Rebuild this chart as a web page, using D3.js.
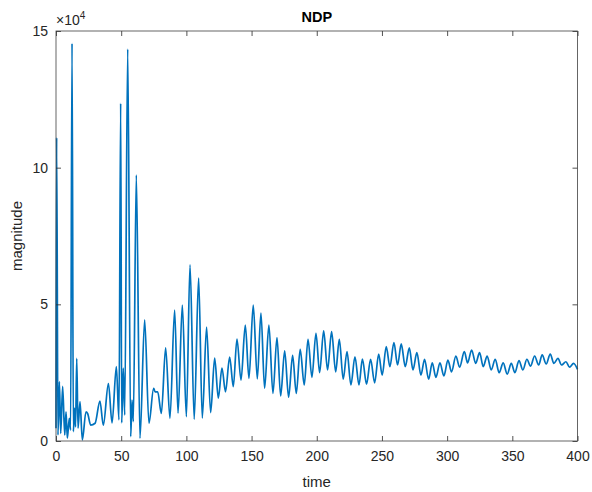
<!DOCTYPE html>
<html><head><meta charset="utf-8">
<script src="https://cdn.jsdelivr.net/npm/d3@7"></script>
<style>body{margin:0;background:#fff}svg{display:block}text{font-family:"Liberation Sans",Arial,sans-serif}</style>
</head><body>
<svg id="c" width="592" height="492"></svg>
<script>
// time samples (extrema)
const time = [0,0.5,1.5,2.6,3.6,5.1,6.7,7.7,8.7,10.2,11.2,12.3,13.3,14.3,15.0,15.9,16.9,18.4,20.2,23.0,24.3,26.6,30.0,33.7,36.3,40.2,43.0,46.3,48.3,49.6,50.4,51.6,52.7,55.0,57.3,58.3,59.3,61.6,64.4,68.0,71.3,74.9,76.0,78.0,80.8,84.1,87.4,91.0,93.6,96.9,100,102.8,106,109.4,112.2,115.5,118.6,121.7,124.5,127.3,130,133.2,136,138.8,141.9,145.2,148,151.3,154.4,157.2,160,163.3,166.4,169.5,172.3,175.4,178.4,181.5,184.3,187.3,190.4,193.3,196.3,199.4,202.2,205.3,208.3,211.4,214.5,217.3,220.3,223.2,226.2,229.3,232.4,235.0,238.2,241.3,244.4,247.5,250.2,253.3,256.1,259.2,262,264.8,267.9,271,273.8,276.8,279.9,282.7,285.8,288.6,291.4,294.5,297.5,300.6,303.4,306.7,309.6,313.2,315.7,318.8,321.9,324.9,327.7,330.7,333.8,336.9,339.9,343,346.1,349.2,352,355.1,358.1,361.2,364,367.1,370.2,372.9,376,379.1,381.9,385,387.8,391.1,393.9,397,400];
// magnitude in units of 1e4
const magnitude = [0.47,11.1,0.22,2.17,0.28,2.0,0.22,1.07,0.1,0.83,0.4,14.55,0.34,1.2,0.52,3.02,0.47,1.44,0.04,1.07,1.0,0.58,0.65,1.46,0.58,2.1,0.66,2.72,0.77,12.35,0.66,2.67,0.95,14.34,0.16,1.5,0.71,9.73,0.1,4.43,0.65,1.93,1.8,1.8,1.01,3.41,0.83,4.79,1.02,4.97,0.89,6.44,0.8,5.96,0.84,4.17,1.04,3.03,1.57,2.67,1.8,3.07,1.99,3.73,2.23,4.24,2.29,4.97,2.27,4.68,1.93,4.24,1.74,3.78,1.65,3.3,1.6,3.13,1.74,3.35,2.05,3.72,2.33,3.94,2.5,4.03,2.6,4.0,2.53,3.72,2.26,3.27,2.05,3.08,2.05,3.0,2.08,2.99,2.13,3.18,2.41,3.45,2.72,3.6,2.78,3.55,2.72,3.41,2.6,3.23,2.41,2.99,2.26,2.86,2.33,2.86,2.38,2.96,2.53,3.11,2.7,3.27,2.86,3.33,2.84,3.23,2.72,3.11,2.6,2.99,2.5,2.86,2.45,2.84,2.5,2.94,2.6,2.99,2.74,3.11,2.78,3.15,2.82,3.18,2.84,3.02,2.78,2.9,2.7,2.84,2.62];
const xTicks = [0,50,100,150,200,250,300,350,400];
const yTicks = [0,5,10,15];
const titleText = "NDP", xLabel = "time", yLabel = "magnitude";

const svg = d3.select("#c");
const L = 56, R = 577.5, T = 31, B = 441;
const x = d3.scaleLinear().domain([0,400]).range([L,R]);
const y = d3.scaleLinear().domain([0,15]).range([B,T]);
const axCol = "#262626";

const g = svg.append("g");
const data = time.map((t,i)=>[t,magnitude[i]]);
g.append("path").datum(data)
  .attr("fill","none").attr("stroke","#0072BD").attr("stroke-width",1.7)
  .attr("stroke-linejoin","round")
  .attr("d", d3.line().x(d=>x(d[0])).y(d=>y(d[1])).curve(d3.curveMonotoneX));

function styleAxis(sel){
  sel.select(".domain").remove();
  sel.selectAll("line").attr("stroke",axCol).attr("stroke-width",0.8);
  sel.selectAll("text").attr("fill",axCol).style("font-size","14px").style("font-family",'"Liberation Sans",Arial,sans-serif');
}
svg.append("g").attr("transform",`translate(0,${B})`)
  .call(d3.axisBottom(x).tickValues(xTicks).tickSize(-5).tickPadding(10).tickFormat(d3.format("d")))
  .call(styleAxis);
svg.append("g").attr("transform",`translate(0,${T})`)
  .call(d3.axisTop(x).tickValues(xTicks).tickSize(-5).tickFormat(""))
  .call(styleAxis);
svg.append("g").attr("transform",`translate(${L},0)`)
  .call(d3.axisLeft(y).tickValues(yTicks).tickSize(-5).tickPadding(8).tickFormat(d3.format("d")))
  .call(styleAxis);
svg.append("g").attr("transform",`translate(${R},0)`)
  .call(d3.axisRight(y).tickValues(yTicks).tickSize(-5).tickFormat(""))
  .call(styleAxis);

svg.append("rect").attr("x",L).attr("y",T).attr("width",R-L).attr("height",B-T)
  .attr("fill","none").attr("stroke","#404040").attr("stroke-width",0.8);

svg.append("text").attr("x",(L+R)/2).attr("y",22).attr("text-anchor","middle")
  .attr("font-weight","bold").attr("font-size",14.5).attr("fill","#000").text(titleText);
svg.append("text").attr("x",(L+R)/2).attr("y",487).attr("text-anchor","middle")
  .attr("font-size",15).attr("fill",axCol).text(xLabel);
svg.append("text").attr("transform",`translate(22,${(T+B)/2}) rotate(-90)`).attr("text-anchor","middle")
  .attr("font-size",15).attr("fill",axCol).text(yLabel);
const ex = svg.append("text").attr("x",L).attr("y",25).attr("font-size",14).attr("fill",axCol);
ex.append("tspan").text("\u00d710");
ex.append("tspan").attr("dy",-6).attr("font-size",10).text("4");
</script>
</body></html>
